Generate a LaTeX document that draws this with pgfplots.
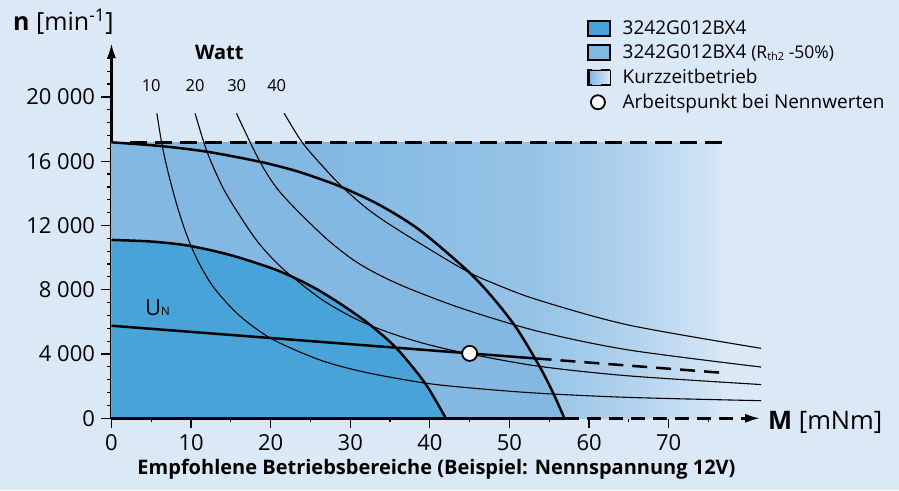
\documentclass[border=0pt]{standalone}
\usepackage{fontspec}
\setmainfont{Open Sans}
\usepackage{pgfplots}
\pgfplotsset{compat=1.18}
\usetikzlibrary{arrows.meta}
\definecolor{bg}{RGB}{219,232,246}
\definecolor{dkb}{RGB}{72,164,216}
\definecolor{ltb}{RGB}{130,184,225}
\definecolor{ga}{RGB}{150,196,231}
\definecolor{gb}{RGB}{180,211,238}
\definecolor{gc}{RGB}{214,230,245}
\pgfdeclarehorizontalshading{kurz}{100bp}{color(0bp)=(ltb); color(25bp)=(ltb); color(42bp)=(ltb); color(60bp)=(ga); color(68bp)=(gb); color(75bp)=(gc); color(100bp)=(gc)}
\pgfdeclarehorizontalshading{kurzleg}{100bp}{color(0bp)=(ltb); color(25bp)=(ltb); color(75bp)=(bg); color(100bp)=(bg)}
\newcommand\fs[1]{\fontsize{#1}{#1}\selectfont}
\begin{document}
\begin{tikzpicture}
\path[use as bounding box, fill=bg] (-111.5pt,-71.7pt) rectangle (787.5pt,418.3pt);
\begin{axis}[
  at={(0pt,0pt)}, anchor=south west, scale only axis,
  width=648.7pt, height=375.2pt,
  xmin=0, xmax=81.5, ymin=0, ymax=23350,
  clip=false,
  scaled y ticks=false, scaled x ticks=false,
  axis x line=bottom, axis y line=left,
  x axis line style={draw=none},
  y axis line style={line width=2.5pt, -{Latex[length=15pt,width=9pt]}},
  xtick={0,10,...,70}, minor xtick={5,15,...,75},
  ytick={0,4000,8000,12000,16000,20000},
  yticklabels={0,4 000,8 000,12 000,16 000,20 000},
  xticklabels={0,10,20,30,40,50,60,70},
  minor ytick={800,1600,2400,3200,4800,5600,6400,7200,8800,9600,10400,11200,12800,13600,14400,15200,16800,17600,18400,19200,20800,21600,22400},
  tick align=outside, major tick length=10pt, minor tick length=4pt,
  every tick/.style={black, line width=1.2pt},
  ticklabel style={font=\fs{22}},
  yticklabel style={xshift=-3pt},
  xticklabel style={yshift=-3pt},
  legend style={at={(0.7330,1.0653)}, anchor=north west, draw=none, fill=none,
    inner sep=0pt, row sep=5pt, font=\fs{19}, nodes={inner xsep=5pt, inner ysep=2pt},
    /tikz/every odd column/.append style={column sep=7pt}},
  legend cell align=left,
]
% gradient region (Kurzzeitbetrieb)
\addplot[draw=none, shade, shading=kurz, forget plot] coordinates {(0,17150) (76.7,17150)} \closedcycle;
% light region (Rth2 -50%)
\addplot[draw=none, fill=ltb, smooth, forget plot] coordinates {
(0,17175) (6,16950) (12,16590) (18.6,15970) (23,15420) (26.5,14840) (29.1,14350) (33.7,13270) (38.7,11720) (44.8,9150) (48,7450) (50.9,5600) (53.8,3210) (55.5,1560) (56.9,0)} \closedcycle;
% dark region
\addplot[draw=none, fill=dkb, smooth, forget plot] coordinates {
(0,11100) (5,11000) (9.7,10740) (15,10150) (20.5,9270) (24,8500) (26.5,7830) (29.5,6880) (32.5,5810) (35.8,4360) (39.4,2180) (42,0)} \closedcycle;
% power curves (10, 20, 30, 40 W)
\addplot[black, line width=1.1pt, smooth, forget plot] coordinates {
(5.7,18980) (6.3,17150) (7,15540) (8,13640) (9,12040) (10,10720) (11.3,9370) (13,8044) (16,6424) (20.1,4950) (26.2,3628) (32,2850) (39.6,2178) (46,1850) (53.8,1556) (65,1300) (81.6,1095)};
\addplot[black, line width=1.1pt, smooth, forget plot] coordinates {
(10.5,18980) (12,16590) (14,14350) (16,12700) (18.5,10900) (21.6,9272) (26.2,7470) (30,6355) (33,5683) (36.2,5110) (40,4560) (45,4000) (53.8,3230) (65,2640) (81.6,2100)};
\addplot[black, line width=1.1pt, smooth, forget plot] coordinates {
(15.7,18980) (18.65,15968) (21.3,14000) (26.5,11400) (30.4,9850) (34,8830) (38,7950) (44.6,6740) (53.8,5389) (65,4250) (81.6,3190)};
\addplot[black, line width=1.1pt, smooth, forget plot] coordinates {
(21.7,18980) (23.9,17210) (26.5,15700) (29.1,14350) (32.5,12900) (36.7,11510) (44.2,9272) (48,8400) (53.6,7361) (65,5800) (81.6,4356)};
% boundary curves
\addplot[black, line width=2.5pt, smooth, forget plot] coordinates {
(0,17175) (6,16950) (12,16590) (18.6,15970) (23,15420) (26.5,14840) (29.1,14350) (33.7,13270) (38.7,11720) (44.8,9150) (48,7450) (50.9,5600) (53.8,3210) (55.5,1560) (56.9,0)};
\addplot[black, line width=2.5pt, smooth, forget plot] coordinates {
(0,11100) (5,11000) (9.7,10740) (15,10150) (20.5,9270) (24,8500) (26.5,7830) (29.5,6880) (32.5,5810) (35.8,4360) (39.4,2180) (42,0)};
% U_N line
\addplot[black, line width=2.5pt, forget plot] coordinates {(0,5760) (53.4,3720)};
\addplot[black, line width=2.5pt, dash pattern=on 15pt off 9pt, forget plot] coordinates {(53.4,3720) (76.5,2840)};
% top dashed line
\addplot[black, line width=2.7pt, dash pattern=on 17pt off 8pt, forget plot] coordinates {(2.3,17150) (76.7,17150)};
% x axis
\addplot[black, line width=2.5pt, forget plot] coordinates {(0,0) (57,0)};
\addplot[black, line width=2.5pt, dash pattern=on 14pt off 8pt, forget plot, -{Latex[length=15pt,width=9pt]}] coordinates {(57,0) (81.5,0)};
% operating point
\addplot[only marks, mark=*, mark size=7.5pt, mark options={fill=white, draw=black, line width=1.8pt}, forget plot] coordinates {(45,4040)};
% legend
\addlegendimage{legend image code/.code={\draw[black, line width=1.5pt, fill=dkb] (0pt,-7.5pt) rectangle (22pt,7.5pt);}}
\addlegendentry{3242G012BX4}
\addlegendimage{legend image code/.code={\draw[black, line width=1.5pt, fill=ltb] (0pt,-7.5pt) rectangle (22pt,7.5pt);}}
\addlegendentry{3242G012BX4 {\fs{17.5}(R{\fs{11}\raisebox{-1.5pt}{th2}} -50\%)}}
\addlegendimage{legend image code/.code={\shade[shading=kurzleg] (1pt,-7.5pt) rectangle (22pt,7.5pt);
  \draw[black, line width=1.5pt] (4pt,7.5pt) -- (0pt,7.5pt) -- (0pt,-7.5pt) -- (4pt,-7.5pt);
  \draw[black, line width=1.5pt] (13pt,7.5pt) -- (22pt,7.5pt);
  \draw[black, line width=1.5pt] (13pt,-7.5pt) -- (22pt,-7.5pt);}}
\addlegendentry{Kurzzeitbetrieb}
\addlegendimage{legend image code/.code={\draw[black, line width=1.8pt, fill=white] (10pt,0pt) circle[radius=7pt];}}
\addlegendentry{Arbeitspunkt bei Nennwerten}
\end{axis}
% texts
\node[anchor=base west, inner sep=0pt, font=\fs{25}] at (-98.5pt,387.8pt) {\textbf{n} [min\textsuperscript{-1}]};
\node[anchor=base west, inner sep=0pt, font=\fs{20}\bfseries] at (83.5pt,358.3pt) {Watt};
\node[anchor=base, inner sep=0pt, font=\fs{16.5}] at (39.7pt,326.6pt) {10};
\node[anchor=base, inner sep=0pt, font=\fs{16.5}] at (83.5pt,326.6pt) {20};
\node[anchor=base, inner sep=0pt, font=\fs{16.5}] at (125.2pt,326.6pt) {30};
\node[anchor=base, inner sep=0pt, font=\fs{16.5}] at (165.2pt,326.6pt) {40};
\node[anchor=base west, inner sep=0pt] at (33.5pt,103.3pt) {{\fs{22}U}{\fs{11.5}N}};
\node[anchor=west, inner sep=0pt, font=\fs{25.5}] at (656.5pt,-3.7pt) {\textbf{M} [mNm]};
\node[anchor=base, inner sep=0pt, font=\fs{20}\bfseries] at (325pt,-55.7pt) {Empfohlene Betriebsbereiche (Beispiel: Nennspannung 12V)};
\end{tikzpicture}
\end{document}
